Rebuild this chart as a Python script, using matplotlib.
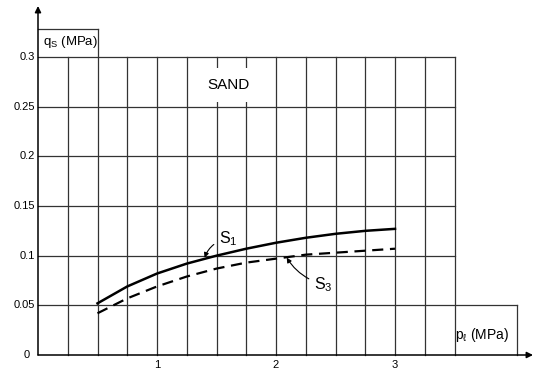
import matplotlib
matplotlib.use("Agg")
import matplotlib.pyplot as plt
import numpy as np

# ---- data ----
pl = [0.5, 0.75, 1.0, 1.25, 1.5, 1.75, 2.0, 2.25, 2.5, 2.75, 3.0]
s1 = [0.052, 0.069, 0.082, 0.092, 0.100, 0.107, 0.113, 0.118, 0.122, 0.125, 0.127]
s3 = [0.042, 0.057, 0.069, 0.079, 0.087, 0.093, 0.097, 0.101, 0.103, 0.105, 0.107]
yticks = [0, 0.05, 0.1, 0.15, 0.2, 0.25, 0.3]
ytick_labels = ["0", "0.05", "0.1", "0.15", "0.2", "0.25", "0.3"]
xticks = [1, 2, 3]
xtick_labels = ["1", "2", "3"]

plt.rcParams['font.family'] = ['Liberation Sans', 'DejaVu Sans']
plt.rcParams['mathtext.fontset'] = 'custom'
plt.rcParams['mathtext.rm'] = 'Liberation Sans'
plt.rcParams['mathtext.it'] = 'Liberation Sans'

fig = plt.figure(figsize=(5.34, 3.72), dpi=100)
ax = fig.add_axes([0, 0, 1, 1])
# pixel mapping: x=0 at px 38, 119 px/unit ; y=0 at py 355, 0.3 at py 57
xs = 119.0
ys = 298.0 / 0.3
ax.set_xlim(-38 / xs, (534 - 38) / xs)
ax.set_ylim(-(372 - 355) / ys, 355 / ys)
ax.axis('off')

gc = '#333333'
glw = 0.9
# grid
for gx in np.arange(0.25, 3.51, 0.25):
    top = 0.3
    if abs(gx - 0.5) < 1e-6:
        top = (355 - 29) / ys
    ax.plot([gx, gx], [0, top], color=gc, lw=glw, zorder=1)
for gy in yticks[1:]:
    right = 3.5
    if abs(gy - 0.05) < 1e-6:
        right = (517 - 38) / xs
    ax.plot([0, right], [gy, gy], color=gc, lw=glw, zorder=1)
# boxes
ax.plot([0, 0.5], [(355 - 29) / ys] * 2, color=gc, lw=glw, zorder=1)
rx = (517 - 38) / xs
ax.plot([rx, rx], [0, 0.05], color=gc, lw=glw, zorder=1)

# axes with arrows
ax.annotate('', xy=(0, (355 - 6) / ys), xytext=(0, 0),
            arrowprops=dict(arrowstyle='-|>', color='black', lw=1.1,
                            mutation_scale=9, shrinkA=0, shrinkB=0), zorder=3)
ax.annotate('', xy=((533 - 38) / xs, 0), xytext=(0, 0),
            arrowprops=dict(arrowstyle='-|>', color='black', lw=1.1,
                            mutation_scale=9, shrinkA=0, shrinkB=0), zorder=3)

# curves
ax.plot(pl, s1, color='black', lw=1.8, zorder=4)
ax.plot(pl, s3, color='black', lw=1.6, ls=(0, (5, 3)), zorder=4)

# tick labels
for v, t in zip(yticks, ytick_labels):
    if v == 0:
        ax.text(-11 / xs, v, t, ha='center', va='center', fontsize=8)
    else:
        ax.text(-3 / xs, v, t, ha='right', va='center', fontsize=8)
for v, t in zip(xticks, xtick_labels):
    ax.text(v, -10 / ys, t, ha='center', va='center', fontsize=8)

# axis labels
ax.text(0.04, 0.315, r'$\mathregular{q_S}$ (MPa)', ha='left', va='center', fontsize=9.5)
ax.text((455 - 38) / xs, 0.02, r'$\mathregular{p}_{\ell}$ (MPa)', ha='left', va='center', fontsize=10)

# SAND
ax.text((228 - 38) / xs, (355 - 85) / ys, 'SAND', ha='center', va='center', fontsize=11,
        bbox=dict(facecolor='white', edgecolor='none', pad=7), zorder=2)

# curve labels
ax.annotate(r'$\mathregular{S_1}$', xy=(1.40, 0.098), xytext=(1.52, 0.117),
            ha='left', va='center', fontsize=11.5,
            arrowprops=dict(arrowstyle='-|>', color='black', lw=0.8, mutation_scale=7,
                            connectionstyle='arc3,rad=0.3', shrinkA=2, shrinkB=0), zorder=5)
ax.annotate(r'$\mathregular{S_3}$', xy=(2.09, 0.098), xytext=(2.32, 0.071),
            ha='left', va='center', fontsize=11.5,
            arrowprops=dict(arrowstyle='-|>', color='black', lw=0.8, mutation_scale=7,
                            connectionstyle='arc3,rad=-0.2', shrinkA=2, shrinkB=0), zorder=5)

fig.savefig('out.png', dpi=100, facecolor='white')
